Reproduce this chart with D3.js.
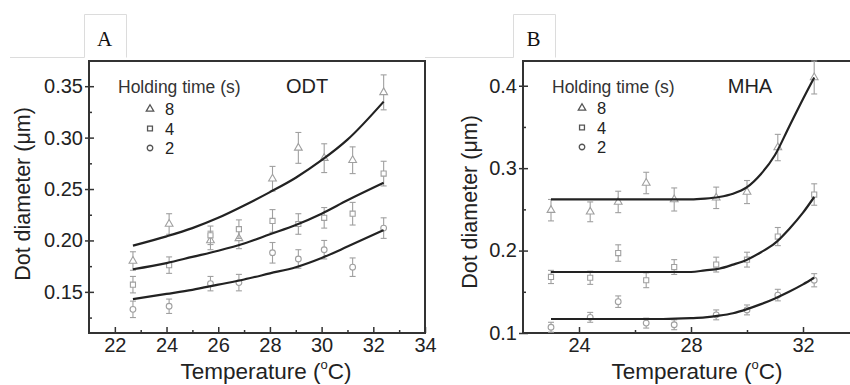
<!DOCTYPE html>
<html>
<head>
<meta charset="utf-8">
<script src="https://cdn.jsdelivr.net/npm/d3@7"></script>
<style>
  body { margin: 0; background: #fff; }
  svg { display: block; font-family: "Liberation Sans", Arial, sans-serif; }
</style>
</head>
<body>
<div id="chart"></div>
<script>
// Panel A (ODT) - measured points
var tempsA   = [22.7, 24.1, 25.7, 26.8, 28.1, 29.1, 30.1, 31.2, 32.4];
var odt8     = [0.180, 0.216, 0.200, 0.202, 0.260, 0.290, 0.280, 0.278, 0.344];
var odt8Err  = [0.009, 0.010, 0.009, 0.010, 0.012, 0.015, 0.014, 0.013, 0.017];
var odt4     = [0.157, 0.176, 0.205, 0.211, 0.219, 0.216, 0.222, 0.226, 0.265];
var odt4Err  = [0.008, 0.008, 0.009, 0.009, 0.011, 0.010, 0.010, 0.011, 0.012];
var odt2     = [0.133, 0.136, 0.158, 0.159, 0.188, 0.182, 0.191, 0.174, 0.212];
var odt2Err  = [0.008, 0.007, 0.007, 0.008, 0.010, 0.009, 0.009, 0.009, 0.010];

// Panel A fitted curves
var fitTempsA = [22.7, 24, 25, 26, 27, 28, 29, 30, 31, 32.4];
var odtFit8   = [0.195, 0.204, 0.212, 0.222, 0.234, 0.247, 0.261, 0.278, 0.298, 0.335];
var odtFit4   = [0.172, 0.178, 0.184, 0.190, 0.197, 0.206, 0.215, 0.226, 0.239, 0.256];
var odtFit2   = [0.143, 0.148, 0.152, 0.157, 0.162, 0.168, 0.174, 0.183, 0.194, 0.210];

// Panel B (MHA) - measured points
var tempsB   = [23.0, 24.4, 25.4, 26.4, 27.4, 28.9, 30.0, 31.1, 32.4];
var mha8     = [0.249, 0.247, 0.259, 0.282, 0.262, 0.264, 0.271, 0.325, 0.410];
var mha8Err  = [0.013, 0.012, 0.013, 0.013, 0.014, 0.013, 0.014, 0.016, 0.020];
var mha4     = [0.168, 0.167, 0.197, 0.164, 0.180, 0.183, 0.189, 0.217, 0.268];
var mha4Err  = [0.008, 0.008, 0.010, 0.009, 0.009, 0.009, 0.009, 0.011, 0.013];
var mha2     = [0.107, 0.119, 0.138, 0.112, 0.110, 0.122, 0.128, 0.146, 0.164];
var mha2Err  = [0.006, 0.006, 0.007, 0.006, 0.006, 0.006, 0.006, 0.007, 0.008];

// Panel B fitted curves
var fitTempsB = [23, 24, 25, 26, 27, 28, 28.5, 29, 29.5, 30, 30.5, 31, 31.5, 32, 32.4];
var mhaFit8   = [0.262, 0.262, 0.262, 0.262, 0.262, 0.262, 0.263, 0.265, 0.269, 0.277, 0.293, 0.316, 0.350, 0.384, 0.410];
var mhaFit4   = [0.174, 0.174, 0.174, 0.174, 0.174, 0.174, 0.176, 0.178, 0.183, 0.189, 0.198, 0.209, 0.226, 0.246, 0.265];
var mhaFit2   = [0.117, 0.117, 0.117, 0.117, 0.117, 0.118, 0.119, 0.121, 0.124, 0.129, 0.135, 0.142, 0.150, 0.159, 0.167];

// Legend / ticks
var holdTimes   = ["8", "4", "2"];
var xTicksA     = [22, 24, 26, 28, 30, 32, 34];
var xMinorA     = [23, 25, 27, 29, 31, 33];
var yTicksA     = [0.15, 0.20, 0.25, 0.30, 0.35];
var yMinorA     = [0.125, 0.175, 0.225, 0.275, 0.325];
var xTicksB     = [24, 28, 32];
var xMinorB     = [26, 30, 34];
var yTicksB     = [0.1, 0.2, 0.3, 0.4];
var yMinorB     = [0.15, 0.25, 0.35];

var W = 850, H = 385;
var svg = d3.select("#chart").append("svg")
    .attr("width", W)
    .attr("height", H);
svg.append("rect").attr("width", W).attr("height", H).attr("fill", "#fff");

var symbols = [d3.symbolTriangle, d3.symbolSquare, d3.symbolCircle];
var ptColor = "#a0a0a0";

function drawPanel(p) {
    var x = d3.scaleLinear().domain(p.xDomain).range(p.xRange);
    var y = d3.scaleLinear().domain(p.yDomain).range([333, 61]);
    var g = svg.append("g");

    // x ticks (pointing inward)
    g.append("g")
        .attr("transform", "translate(0,333)")
        .call(d3.axisBottom(x).tickValues(p.xTicks).tickSize(-6).tickFormat(d3.format("d")).tickPadding(5))
        .call(function(a) {
            a.select(".domain").remove();
            a.selectAll("line").attr("stroke", "#333").attr("stroke-width", 1.5);
            a.selectAll("text").attr("font-size", 20).attr("fill", "#222");
        });
    g.append("g")
        .attr("transform", "translate(0,333)")
        .call(d3.axisBottom(x).tickValues(p.xMinor).tickSize(-3).tickFormat(""))
        .call(function(a) {
            a.select(".domain").remove();
            a.selectAll("line").attr("stroke", "#333").attr("stroke-width", 1.5);
        });

    // y ticks
    g.append("g")
        .attr("transform", "translate(" + p.xRange[0] + ",0)")
        .call(d3.axisLeft(y).tickValues(p.yTicks).tickSizeInner(4).tickSizeOuter(0).tickPadding(2).tickFormat(p.yFormat))
        .call(function(a) {
            a.select(".domain").remove();
            a.selectAll("line").attr("stroke", "#333").attr("stroke-width", 1.5).attr("x2", 5).attr("x1", -4);
            a.selectAll("text").attr("font-size", 20).attr("fill", "#222");
        });
    g.append("g")
        .attr("transform", "translate(" + p.xRange[0] + ",0)")
        .call(d3.axisLeft(y).tickValues(p.yMinor).tickSize(-3).tickFormat(""))
        .call(function(a) {
            a.select(".domain").remove();
            a.selectAll("line").attr("stroke", "#333").attr("stroke-width", 1.5);
        });

    // frame
    g.append("rect")
        .attr("x", p.xRange[0]).attr("y", 61)
        .attr("width", p.frameRight - p.xRange[0]).attr("height", 333 - 61)
        .attr("fill", "none").attr("stroke", "#333").attr("stroke-width", 2);

    // error bars + markers
    p.series.forEach(function(s, si) {
        var pts = p.temps.map(function(t, i) { return {t: t, v: s.vals[i], e: s.err[i]}; });
        var eb = g.append("g").attr("stroke", ptColor).attr("stroke-width", 1.1);
        eb.selectAll("line.v").data(pts).enter().append("line")
            .attr("x1", function(d) { return x(d.t); }).attr("x2", function(d) { return x(d.t); })
            .attr("y1", function(d) { return y(d.v - d.e); }).attr("y2", function(d) { return y(d.v + d.e); });
        [-1, 1].forEach(function(sign) {
            eb.selectAll("line.c" + sign).data(pts).enter().append("line")
                .attr("x1", function(d) { return x(d.t) - 3; }).attr("x2", function(d) { return x(d.t) + 3; })
                .attr("y1", function(d) { return y(d.v + sign * d.e); })
                .attr("y2", function(d) { return y(d.v + sign * d.e); });
        });
        g.selectAll(null).data(pts).enter().append("path")
            .attr("d", d3.symbol().type(symbols[si]).size(26))
            .attr("transform", function(d) { return "translate(" + x(d.t) + "," + y(d.v) + ")"; })
            .attr("fill", "#fff").attr("stroke", ptColor).attr("stroke-width", 1.1);
    });

    // fitted curves
    var line = d3.line()
        .x(function(d) { return x(d[0]); })
        .y(function(d) { return y(d[1]); })
        .curve(d3.curveMonotoneX);
    p.fits.forEach(function(f) {
        g.append("path")
            .attr("d", line(p.fitTemps.map(function(t, i) { return [t, f[i]]; })))
            .attr("fill", "none").attr("stroke", "#222").attr("stroke-width", 2.2);
    });

    // legend
    var lg = g.append("g").attr("transform", "translate(" + p.legendX + ",0)");
    lg.append("text").attr("x", 0).attr("y", 93).attr("font-size", 17.5).attr("fill", "#333")
        .text("Holding time (s)");
    holdTimes.forEach(function(h, i) {
        var yy = p.legendY0 + i * 19.5;
        lg.append("path").attr("d", d3.symbol().type(symbols[i]).size(24))
            .attr("transform", "translate(" + p.symX + "," + yy + ")")
            .attr("fill", "#fff").attr("stroke", "#555").attr("stroke-width", 1.3);
        lg.append("text").attr("x", p.symX + 15).attr("y", yy + 6).attr("font-size", 16.5).attr("fill", "#222").text(h);
    });
    g.append("text").attr("x", p.tagX).attr("y", 93).attr("text-anchor", "middle")
        .attr("font-size", 20).attr("fill", "#222").text(p.tag);

    // axis titles
    var xt = g.append("text").attr("x", p.xTitleX).attr("y", 379).attr("text-anchor", "middle")
        .attr("font-size", 22.5).attr("fill", "#222");
    xt.append("tspan").text("Temperature (");
    xt.append("tspan").attr("font-size", 13).attr("dy", -10).text("o");
    xt.append("tspan").attr("dy", 10).text("C)");
    g.append("text")
        .attr("transform", "translate(" + p.yTitleX + "," + p.yTitleY + ") rotate(-90)")
        .attr("text-anchor", "middle").attr("font-size", 21.5).attr("fill", "#222")
        .text("Dot diameter (\u03BCm)");

    // panel label tab
    var tab = g.append("g");
    tab.append("path")
        .attr("d", "M" + p.lineStart + ",57.5 H" + p.tabX + " V14.5 H" + (p.tabX + 42) + " V57.5")
        .attr("fill", "#fff").attr("stroke", "#dcdcdc").attr("stroke-width", 1);
    tab.append("text").attr("x", p.tabX + 20).attr("y", 46).attr("text-anchor", "middle")
        .attr("font-family", "Liberation Serif, 'Times New Roman', serif").attr("font-size", 21)
        .attr("fill", "#111").text(p.label);
}

drawPanel({
    label: "A", tabX: 84.5, lineStart: 10,
    xDomain: [21, 34], xRange: [89, 425], frameRight: 425,
    yDomain: [0.11, 0.3745],
    xTicks: xTicksA, xMinor: xMinorA,
    yTicks: yTicksA, yMinor: yMinorA, yFormat: d3.format(".2f"),
    temps: tempsA,
    series: [{vals: odt8, err: odt8Err}, {vals: odt4, err: odt4Err}, {vals: odt2, err: odt2Err}],
    fitTemps: fitTempsA, fits: [odtFit8, odtFit4, odtFit2],
    legendX: 118, symX: 32, legendY0: 109, tag: "ODT", tagX: 307,
    xTitleX: 266, yTitleX: 30, yTitleY: 194
});

drawPanel({
    label: "B", tabX: 513.5, lineStart: 425,
    xDomain: [22, 34], xRange: [523, 859], frameRight: 870,
    yDomain: [0.1, 0.43],
    xTicks: xTicksB, xMinor: xMinorB,
    yTicks: yTicksB, yMinor: yMinorB, yFormat: d3.format(".1f"),
    temps: tempsB,
    series: [{vals: mha8, err: mha8Err}, {vals: mha4, err: mha4Err}, {vals: mha2, err: mha2Err}],
    fitTemps: fitTempsB, fits: [mhaFit8, mhaFit4, mhaFit2],
    legendX: 552, symX: 30, legendY0: 108, tag: "MHA", tagX: 750,
    xTitleX: 697, yTitleX: 477, yTitleY: 202
});
</script>
</body>
</html>
